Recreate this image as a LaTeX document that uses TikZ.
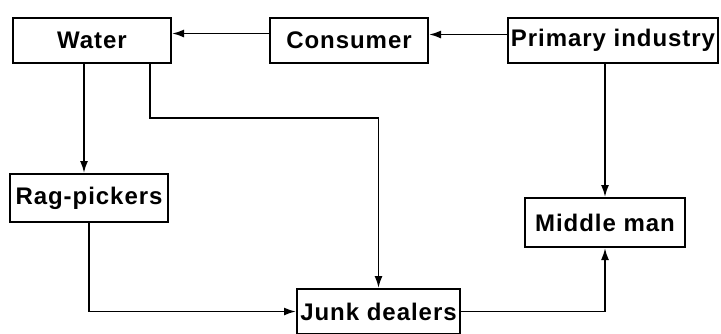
\documentclass[tikz,border=0pt]{standalone}
\usepackage{fontspec}
\setmainfont{Liberation Sans}[LetterSpace=4]
\usetikzlibrary{arrows.meta, positioning}

\begin{document}
\begin{tikzpicture}[x=1pt, y=-1pt, line width=1.8pt, >={Latex[length=12pt, width=8pt]},
    box/.style = {draw, line width=2pt, minimum height=45pt, inner sep=0pt,
                  font=\fontsize{24}{26}\selectfont\bfseries}]
    \useasboundingbox (0,0) rectangle (721,333);

    \node[box, minimum width=158pt] (water) at (92,40.5) {Water};
    \node[box, minimum width=158pt] (consumer) at (349,40.5) {Consumer};
    \node[box, minimum width=210pt] (primary) at (613,40.5) {Primary industry};

    \draw[->] ([yshift=6pt]primary.west) -- ([yshift=6pt]consumer.east);
    \draw[->] ([yshift=7pt]consumer.west) -- ([yshift=7pt]water.east);

    \node[box, minimum width=158pt, minimum height=48pt] (rag) at (89,198) {Rag-pickers};
    \node[box, minimum width=160pt, minimum height=49pt] (middle) at (605,222.5) {Middle man};
    \node[box, minimum width=163pt] (junk) at (378.5,311.5) {Junk dealers};

    \coordinate (bend) at (150,118);

    \draw[->] ([xshift=-8pt]water.south) -- ([xshift=-8pt]water.south |- rag.north);
    \draw[->] (water.south -| bend) -- (bend) -| (junk.north);
    \draw[->] (rag.south) |- (junk.west);
    \draw[->] (primary.south -| middle.north) -- (middle.north);
    \draw[->] (junk.east) -| (middle.south);
\end{tikzpicture}
\end{document}
